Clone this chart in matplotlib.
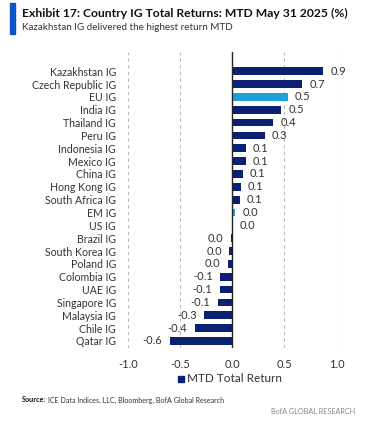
import numpy as np
import matplotlib
matplotlib.use('Agg')
import matplotlib.pyplot as plt
from matplotlib.patches import Rectangle
from matplotlib import font_manager

# pick a narrow-ish sans that is actually installed
fam = 'DejaVu Sans'
for f in ['Liberation Sans Narrow', 'Lato', 'Roboto', 'Open Sans']:
    try:
        font_manager.findfont(f, fallback_to_default=False)
        fam = f
        break
    except ValueError:
        pass
plt.rcParams['font.family'] = [fam, 'DejaVu Sans']

countries = ['Kazakhstan IG', 'Czech Republic IG', 'EU IG', 'India IG', 'Thailand IG',
             'Peru IG', 'Indonesia IG', 'Mexico IG', 'China IG', 'Hong Kong IG',
             'South Africa IG', 'EM IG', 'US IG', 'Brazil IG', 'South Korea IG',
             'Poland IG', 'Colombia IG', 'UAE IG', 'Singapore IG', 'Malaysia IG',
             'Chile IG', 'Qatar IG']
mtd = [0.87, 0.67, 0.53, 0.47, 0.39, 0.31, 0.13, 0.13, 0.10, 0.08, 0.07,
       0.025, 0.003, -0.015, -0.03, -0.04, -0.115, -0.12, -0.14, -0.27, -0.36, -0.60]
highlight = ['EU IG', 'EM IG']
xticks = [-1.0, -0.5, 0.0, 0.5, 1.0]

navy = '#0c2072'
light = '#1fa0d8'
W, H = 371, 422
fs = 8

fig = plt.figure(figsize=(W / 100, H / 100), dpi=100)

# axes placement in pixels
left, right, top, bottom = 127.7, 336.7, 52, 348
ax = fig.add_axes([left / W, 1 - bottom / H, (right - left) / W, (bottom - top) / H])

y = np.arange(len(countries))
cols = [light if c in highlight else navy for c in countries]
ax.barh(y, mtd, height=0.6, color=cols, zorder=3)

for yi, v in zip(y, mtd):
    lab = '%.1f' % v
    if lab == '-0.0':
        lab = '0.0'
    if v >= 0:
        ax.text(v + 0.07, yi, lab, va='center', ha='left', fontsize=fs, color='#333333')
    else:
        ax.text(v - 0.07, yi, lab, va='center', ha='right', fontsize=fs, color='#333333')

ax.set_xlim(-1.0, 1.0)
ax.set_ylim(len(countries) - 0.45, -1.5)
ax.set_yticks(y)
ax.set_yticklabels(countries, fontsize=7.6, color='#333333')
ax.set_xticks(xticks)
ax.set_xticklabels(['%.1f' % t for t in xticks], fontsize=fs, color='#333333')
ax.tick_params(length=0, pad=8)
ax.tick_params(axis='y', pad=8.5)
for s in ax.spines.values():
    s.set_visible(False)
for t in xticks:
    if t == 0:
        ax.axvline(t, color='#222222', lw=1.0, zorder=4)
    else:
        ax.axvline(t, color='#bbbbbb', lw=0.8, ls=(0, (3, 3)), zorder=1)

# legend
fig.patches.append(Rectangle((178 / W, 1 - 382 / H), 6 / W, 6 / H, transform=fig.transFigure,
                             color=navy, figure=fig))
fig.text(187 / W, 1 - 379 / H, 'MTD Total Return', fontsize=8.5, color='#333333', va='center')

# header
fig.patches.append(Rectangle((9.5 / W, 1 - 34 / H), 5.5 / W, 31 / H, transform=fig.transFigure,
                             color='#0b55c6', figure=fig))
fig.text(22 / W, 1 - 13 / H, 'Exhibit 17: Country IG Total Returns: MTD May 31 2025 (%)',
         fontsize=8.7, fontweight='bold', color='#111111', va='center')
fig.text(22 / W, 1 - 28 / H, 'Kazakhstan IG delivered the highest return MTD',
         fontsize=7.1, color='#333333', va='center')

# footer
src = fig.text(22 / W, 1 - 400 / H, 'Source:', fontsize=5.2, fontweight='bold', color='#111111',
               va='center')
fig.canvas.draw()
bb = src.get_window_extent()
fig.text((bb.x1 + 2) / W, 1 - 400 / H, 'ICE Data Indices, LLC, Bloomberg, BofA Global Research',
         fontsize=5.1, color='#333333', va='center')
fig.text(355 / W, 1 - 412 / H, 'BofA GLOBAL RESEARCH', fontsize=5.2, color='#888888',
         va='center', ha='right')

fig.savefig('out.png', dpi=100)
